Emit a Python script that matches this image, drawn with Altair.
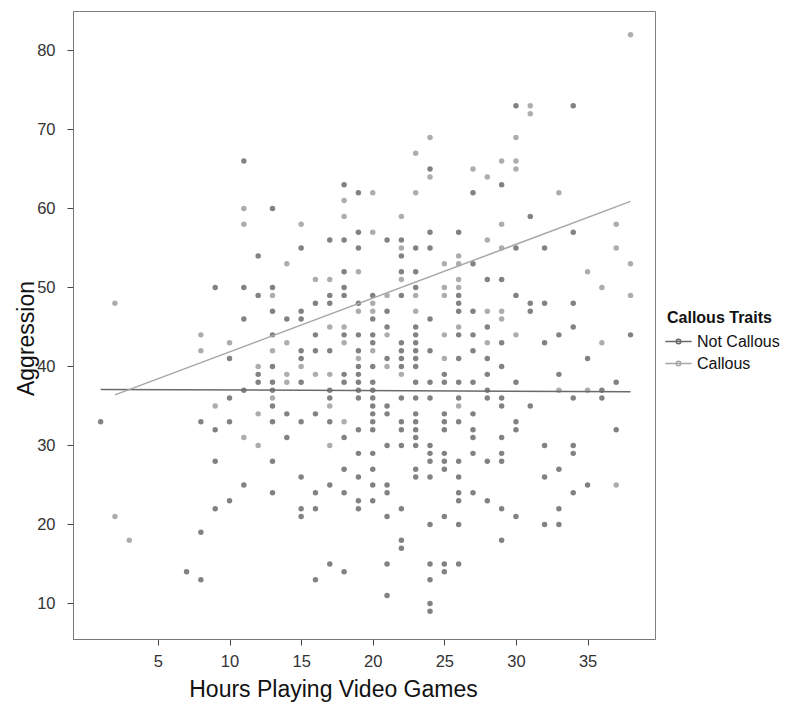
import altair as alt
import pandas as pd

groups = ["Not Callous", "Callous"]
point_colors = {"Not Callous": "#828282", "Callous": "#adadad"}
line_colors = ["#6a6a6a", "#a8a8a8"]

# (hours, aggression)
not_callous = [
    (11, 66), (13, 60), (18, 63), (19, 62), (24, 65), (30, 73), (34, 73), (29, 63), (27, 62), (31, 59),
    (12, 54), (9, 50), (11, 50), (13, 50), (12, 49), (13, 47), (11, 46), (13, 44), (10, 41), (13, 40),
    (12, 39), (12, 38), (13, 38), (11, 37), (13, 37), (10, 36), (13, 35), (1, 33), (8, 33), (10, 33),
    (13, 33), (9, 32),
    (14, 46), (14, 34),
    (15, 55), (15, 47), (15, 46), (15, 42), (15, 41), (15, 38), (15, 33),
    (16, 48), (16, 44), (16, 42), (16, 34),
    (17, 56), (17, 49), (17, 48), (17, 42), (17, 37), (17, 36), (17, 33),
    (18, 56), (18, 52), (18, 50), (18, 49), (18, 44), (18, 39), (18, 38),
    (19, 57), (19, 55), (19, 48), (19, 44), (19, 42), (19, 40), (19, 39), (19, 38), (19, 37), (19, 36), (19, 32),
    (20, 49), (20, 46), (20, 44), (20, 43), (20, 40), (20, 38), (20, 37), (20, 36), (20, 35), (20, 34), (20, 33), (20, 32),
    (21, 56), (21, 47), (21, 45), (21, 41), (21, 35), (21, 34),
    (22, 56), (22, 54), (22, 52), (22, 49), (22, 43), (22, 42), (22, 41), (22, 40), (22, 36), (22, 33), (22, 32),
    (23, 55), (23, 52), (23, 50), (23, 45), (23, 44), (23, 43), (23, 42), (23, 41), (23, 40), (23, 38), (23, 36),
    (23, 34), (23, 33), (23, 32),
    (24, 57), (24, 55), (24, 46), (24, 42), (24, 38), (24, 36),
    (25, 39), (25, 38), (25, 34), (25, 33), (25, 32),
    (26, 57), (26, 49), (26, 48), (26, 47), (26, 44), (26, 41), (26, 38), (26, 36), (26, 33),
    (34, 57), (30, 55), (32, 55), (27, 53), (28, 51), (29, 51), (30, 49), (31, 48), (32, 48), (34, 48),
    (31, 47), (27, 47), (28, 45), (34, 45), (27, 44), (33, 44), (38, 44), (29, 43), (32, 43), (27, 42),
    (28, 41), (35, 41), (29, 40), (28, 39), (33, 39), (27, 38), (30, 38), (37, 38), (28, 37), (36, 37),
    (28, 36), (29, 36), (34, 36), (36, 36), (29, 35), (31, 35), (27, 34), (30, 33), (27, 32), (30, 32), (37, 32),
    (9, 28), (13, 28), (11, 25), (13, 24), (10, 23), (9, 22), (8, 19), (7, 14), (8, 13),
    (14, 31), (18, 31), (23, 31), (21, 30), (22, 30), (23, 30), (24, 30), (24, 29), (25, 29), (19, 29),
    (20, 29), (24, 28), (25, 28), (26, 28), (18, 27), (20, 27), (23, 27), (25, 27), (15, 26), (19, 26),
    (23, 26), (24, 26), (26, 26), (17, 25), (20, 25), (21, 25), (16, 24), (18, 24), (21, 24), (26, 24),
    (15, 22), (16, 22), (19, 23), (20, 23), (26, 23), (19, 22), (15, 21), (21, 21), (22, 22), (25, 21),
    (24, 20), (26, 20), (22, 18), (22, 17), (17, 15), (18, 14), (16, 13), (21, 15), (24, 15), (25, 15),
    (26, 15), (25, 14), (24, 13), (21, 11), (24, 10), (24, 9),
    (27, 31), (29, 31), (32, 30), (34, 30), (34, 29), (27, 29), (29, 29), (28, 28), (29, 28), (33, 27),
    (32, 26), (35, 25), (27, 24), (34, 24), (28, 23), (29, 22), (33, 22), (30, 21), (32, 20), (33, 20), (29, 18),
]

callous = [
    (11, 60), (11, 58), (15, 58), (38, 82), (24, 69), (23, 67), (24, 64), (20, 62), (23, 62), (18, 61),
    (18, 59), (22, 59), (31, 73), (31, 72), (30, 69), (29, 66), (30, 66), (27, 65), (30, 65), (28, 64), (33, 62),
    (13, 49), (2, 48), (8, 44), (8, 42), (10, 43), (13, 42), (12, 40), (13, 36), (9, 35), (12, 34),
    (14, 53), (14, 43), (14, 39), (14, 38), (15, 40), (16, 51), (16, 39),
    (17, 51), (17, 45), (17, 39), (17, 35), (18, 45), (18, 43), (18, 33),
    (19, 52), (19, 47), (19, 41), (20, 57), (20, 48), (20, 47), (20, 42),
    (21, 49), (21, 44), (21, 40), (22, 55), (22, 51), (22, 39), (23, 49), (23, 47),
    (25, 53), (25, 50), (25, 49), (25, 44), (25, 41),
    (26, 54), (26, 53), (26, 51), (26, 50), (26, 45), (26, 35),
    (29, 58), (37, 58), (28, 56), (29, 55), (37, 55), (35, 52), (38, 53), (36, 50), (38, 49), (28, 47),
    (29, 47), (29, 46), (30, 44), (28, 43), (36, 43), (33, 37), (35, 37),
    (11, 31), (12, 30), (2, 21), (3, 18), (17, 30), (37, 25),
]

# fitted regression lines
fit_group = ["Not Callous", "Not Callous", "Callous", "Callous"]
fit_hours = [1, 38, 2, 38]
fit_aggr = [37.1, 36.8, 36.4, 60.9]

x_ticks = [5, 10, 15, 20, 25, 30, 35]
y_ticks = [10, 20, 30, 40, 50, 60, 70, 80]

rows = [{"hours": h, "aggr": a, "pcol": point_colors["Not Callous"]} for h, a in not_callous]
rows += [{"hours": h, "aggr": a, "pcol": point_colors["Callous"]} for h, a in callous]
pts = pd.DataFrame(rows)
fit = pd.DataFrame({"group": fit_group, "hours": fit_hours, "aggr": fit_aggr})

FONT = "Liberation Sans"

xscale = alt.Scale(domain=[-0.93, 39.71], nice=False, zero=False)
yscale = alt.Scale(domain=[5.5, 85.0], nice=False, zero=False)

xaxis = alt.Axis(values=x_ticks, title="Hours Playing Video Games", grid=False,
                 titleX=260, titleY=57, titleBaseline="alphabetic", titleAlign="center")
yaxis = alt.Axis(values=y_ticks, title="Aggression", grid=False, labelPadding=12,
                 titleX=-40, titleY=327, titleBaseline="alphabetic", titleAlign="center", titleAngle=270)

legend_path = ("M-1.25,0L1.25,0"
               "M0.22,0A0.22,0.22,0,1,1,-0.22,0A0.22,0.22,0,1,1,0.22,0Z")

points = alt.Chart(pts).mark_circle(size=30, opacity=1).encode(
    x=alt.X("hours:Q", scale=xscale, axis=xaxis),
    y=alt.Y("aggr:Q", scale=yscale, axis=yaxis),
    fill=alt.Fill("pcol:N", scale=None),
)

lines = alt.Chart(fit).mark_line(strokeWidth=1.5).encode(
    x=alt.X("hours:Q", scale=xscale),
    y=alt.Y("aggr:Q", scale=yscale),
    color=alt.Color("group:N", scale=alt.Scale(domain=groups, range=line_colors),
                    legend=alt.Legend(title="Callous Traits", orient="none", legendX=594, legendY=299,
                                      symbolType=legend_path, symbolSize=441, symbolStrokeWidth=1.5,
                                      rowPadding=2, labelOffset=7, titlePadding=4)),
)

chart = alt.layer(points, lines).properties(
    width=582, height=628,
    autosize=alt.AutoSizeParams(type="none"),
    padding={"left": 65, "top": 3, "right": 134, "bottom": 64},
).configure_view(
    stroke="#808080", strokeWidth=1
).configure_axis(
    labelFont=FONT, titleFont=FONT, labelFontSize=16.5, labelColor="#333333",
    titleFontSize=23, titleFontWeight="normal", titleColor="#111111",
    tickSize=6, tickColor="#444444", domainColor="#777777", labelPadding=6,
).configure_axisX(
    labelPadding=8
).configure_legend(
    titleFont=FONT, labelFont=FONT, titleFontSize=16, titleFontWeight="bold", titleColor="#111111",
    labelFontSize=16, labelColor="#111111",
)

chart.save("out.html", embed_options={"renderer": "svg", "actions": False})
